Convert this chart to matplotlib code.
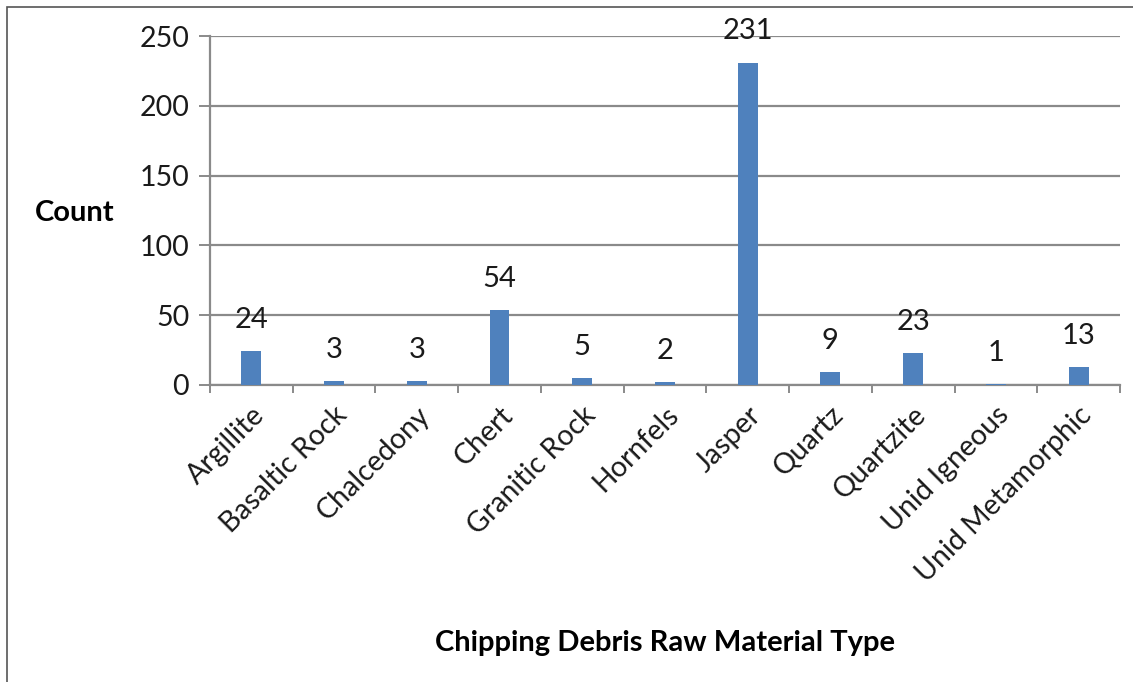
import matplotlib.pyplot as plt
from matplotlib.patches import Rectangle

# data
materials = ['Argillite', 'Basaltic Rock', 'Chalcedony', 'Chert', 'Granitic Rock',
             'Hornfels', 'Jasper', 'Quartz', 'Quartzite', 'Unid Igneous',
             'Unid Metamorphic']
counts = [24, 3, 3, 54, 5, 2, 231, 9, 23, 1, 13]
yticks = [0, 50, 100, 150, 200, 250]

plt.rcParams['font.family'] = ['Lato', 'DejaVu Sans']

fig = plt.figure(figsize=(11.33, 6.82), dpi=100)
fig.patches.append(Rectangle((7 / 1133, -0.1), 1.2, 1.1 - 7 / 682,
                             transform=fig.transFigure, fill=False,
                             edgecolor='#555555', linewidth=1.2))
ax = fig.add_axes([0.1853, 0.4355, 0.8032, 0.5117])

x = list(range(len(materials)))
ax.bar(x, counts, width=0.24, color='#4F81BD', zorder=3)
for xi, c in zip(x, counts):
    ax.annotate(str(c), (xi, c), xytext=(0, 13), textcoords='offset points',
                ha='center', va='bottom', fontsize=21, color='#1a1a1a')

ax.set_xlim(-0.5, len(materials) - 0.5)
ax.set_ylim(0, 250)
ax.set_yticks(yticks)
ax.yaxis.grid(True, color='#8a8a8a', linewidth=1.6, zorder=0)
ax.tick_params(axis='y', labelsize=20.5, length=8, width=1.4, color='#8a8a8a',
               pad=7, labelcolor='#1a1a1a')

ax.set_xticks([i - 0.5 for i in range(len(materials) + 1)], minor=False)
ax.set_xticklabels([])
ax.set_xticks(x, minor=True)
ax.set_xticklabels(materials, minor=True, rotation=45, ha='right',
                   rotation_mode='anchor', fontsize=20.5, color='#1a1a1a')
ax.tick_params(axis='x', which='major', length=6, width=1.4, color='#8a8a8a')
ax.tick_params(axis='x', which='minor', length=0, pad=12)

for s in ['top', 'right']:
    ax.spines[s].set_visible(False)
for s in ['left', 'bottom']:
    ax.spines[s].set_color('#8a8a8a')
    ax.spines[s].set_linewidth(1.6)

fig.text(75 / 1133, 1 - 213 / 682, 'Count', ha='center', va='center',
         fontsize=21, fontweight='bold')
fig.text(665 / 1133, 1 - 643 / 682, 'Chipping Debris Raw Material Type',
         ha='center', va='center', fontsize=21, fontweight='bold')

fig.savefig('out.png', dpi=100, facecolor='white')
